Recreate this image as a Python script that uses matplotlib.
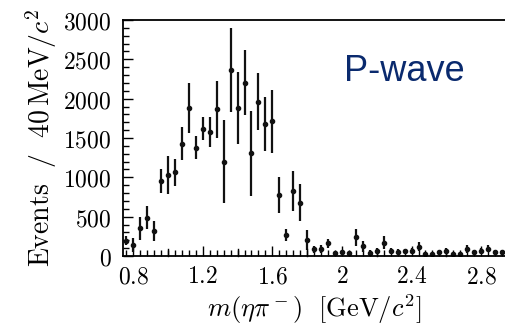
import numpy as np
import matplotlib
matplotlib.use("Agg")
import matplotlib.pyplot as plt
from matplotlib.ticker import MultipleLocator

plt.rcParams['mathtext.fontset'] = 'cm'

# bin centres of m(eta pi-) [GeV/c^2], 40 MeV bins
mass = np.round(np.arange(0.76, 2.95, 0.04), 2)
events = [194, 140, 352, 487, 318, 957, 1030, 1064, 1424, 1877,
          1377, 1620, 1576, 1865, 1199, 2364, 1885, 2205, 1305, 1961,
          1675, 1712, 775, 267, 826, 678, 203, 85, 85, 161,
          42, 50, 35, 237, 127, 42, 68, 170, 68, 55,
          60, 60, 118, 30, 20, 45, 65, 30, 30, 90,
          45, 65, 90, 45, 45]
errors = [57, 89, 144, 144, 121, 155, 240, 170, 210, 318,
          145, 149, 185, 365, 530, 537, 460, 417, 540, 360,
          340, 400, 225, 80, 255, 237, 127, 45, 50, 60,
          25, 30, 20, 110, 70, 30, 40, 80, 40, 35,
          35, 40, 60, 25, 20, 30, 40, 25, 25, 50,
          30, 40, 45, 30, 30]
xticks = [0.8, 1.2, 1.6, 2.0, 2.4, 2.8]
xticklabels = ['0.8', '1.2', '1.6', '2', '2.4', '2.8']
yticks = [0, 500, 1000, 1500, 2000, 2500, 3000]

W, H = 506, 327
fig = plt.figure(figsize=(W / 100, H / 100), dpi=100)
left, right, bottom, top = 122.7, 506, 256, 20
ax = fig.add_axes([left / W, (H - bottom) / H, (right - left) / W, (bottom - top) / H])

ax.errorbar(mass, events, yerr=errors, fmt='o', color='#111111', ms=3,
            elinewidth=1.6, capsize=0)

ax.set_xlim(0.74, 0.74 + (right - left) / 174.0)
ax.set_ylim(0, 3000)

ax.set_xticks(xticks)
ax.set_xticklabels([r'$\mathrm{%s}$' % t for t in xticklabels])
ax.xaxis.set_minor_locator(MultipleLocator(0.04))
ax.set_yticks(yticks)
ax.set_yticklabels([r'$\mathrm{%d}$' % t for t in yticks])
ax.yaxis.set_minor_locator(MultipleLocator(100))

# longer ticks at the unlabelled 0.2 steps on x
for xv in np.arange(1.0, 3.0, 0.4):
    ax.plot([xv, xv], [0, 3000 * 7 / 236], color='black', lw=1.0, clip_on=False)

ax.tick_params(axis='both', which='major', direction='in', length=7, width=1.0,
               labelsize=17, top=False, right=False)
ax.tick_params(axis='both', which='minor', direction='in', length=4, width=1.0,
               top=False, right=False)
ax.tick_params(axis='y', pad=8)
ax.tick_params(axis='x', pad=6)

for s in ['left', 'bottom', 'top']:
    ax.spines[s].set_linewidth(1.3)
ax.spines['right'].set_visible(False)

ax.set_ylabel(r'$\mathrm{Events}\ \ /\ \ 40\,\mathrm{MeV}/c^2$', fontsize=20, labelpad=3)
ax.set_xlabel(r'$m(\eta\pi^-)\ \ [\mathrm{GeV}/c^2]$', fontsize=19, labelpad=3)

ax.text(0.735, 0.78, 'P-wave', transform=ax.transAxes, fontsize=26,
        family='Liberation Sans', color='#0a2a6e', ha='center', va='center')

fig.savefig('out.png', dpi=100)
